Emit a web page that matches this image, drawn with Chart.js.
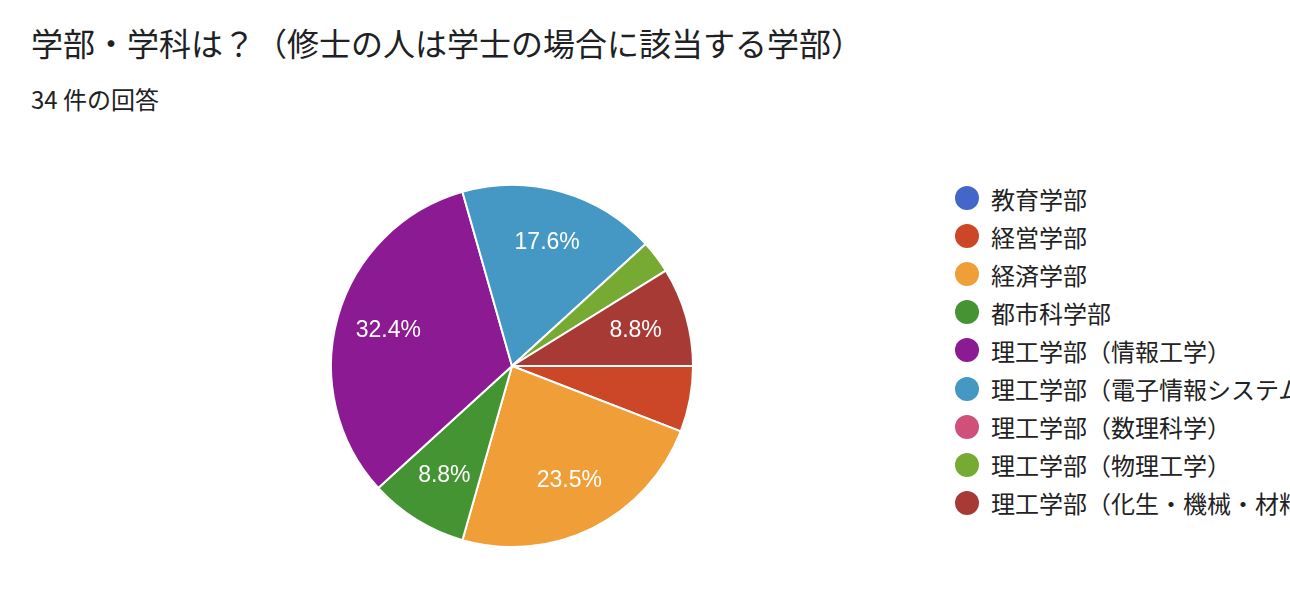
<!DOCTYPE html>
<html lang="ja">
<head>
<meta charset="utf-8">
<script src="https://cdn.jsdelivr.net/npm/chart.js@4.4.1/dist/chart.umd.min.js"></script>
<style>
  html, body { margin:0; padding:0; width:1290px; height:598px; overflow:hidden; background:#fff; }
  body { position:relative; font-family:"Noto Sans CJK JP", "Noto Sans", sans-serif; color:#202124; }
  #title { position:absolute; left:31px; top:20px; font-size:32px; white-space:nowrap; line-height:44px; }
  #sub { position:absolute; left:31px; top:84px; font-size:24px; white-space:nowrap; line-height:30px; }
  #pieBox { position:absolute; left:330px; top:184px; width:364px; height:364px; }
  #legend { position:absolute; left:955px; top:179px; right:0; overflow:hidden; }
  .item { height:38.1px; display:flex; align-items:center; white-space:nowrap; font-size:24px; color:#222; }
  .dot { width:24px; height:24px; border-radius:50%; flex:none; margin-right:12px; }
</style>
</head>
<body>
<div id="title">学部・学科は？（修士の人は学士の場合に該当する学部）</div>
<div id="sub">34 件の回答</div>
<div id="pieBox"><canvas id="pie"></canvas></div>
<div id="legend"></div>
<script>
const labels = ["教育学部", "経営学部", "経済学部", "都市科学部", "理工学部（情報工学）",
  "理工学部（電子情報システム）", "理工学部（数理科学）", "理工学部（物理工学）", "理工学部（化生・機械・材料）"];
const counts = [0, 2, 8, 3, 11, 6, 0, 1, 3];
const colors = ["#4267c9", "#cc4628", "#f09e38", "#459433", "#8c1a93", "#4598c4", "#cf5078", "#77aa33", "#a83a36"];

// legend (clipped at the right edge like the original)
const legendEl = document.getElementById("legend");
labels.forEach((name, i) => {
  const row = document.createElement("div");
  row.className = "item";
  row.innerHTML = `<span class="dot" style="background:${colors[i]}"></span><span>${name}</span>`;
  legendEl.appendChild(row);
});

// percentage labels inside the bigger slices
const sliceText = {
  id: "sliceText",
  afterDatasetsDraw(chart) {
    const ctx = chart.ctx;
    const total = counts.reduce((a, b) => a + b, 0);
    chart.getDatasetMeta(0).data.forEach((arc, i) => {
      const pct = counts[i] / total * 100;
      if (pct < 7) return;
      const mid = (arc.startAngle + arc.endAngle) / 2;
      const r = arc.outerRadius * 0.71;
      ctx.save();
      ctx.fillStyle = "#fff";
      ctx.font = "23px 'Liberation Sans', Arial, sans-serif";
      ctx.textAlign = "center";
      ctx.textBaseline = "middle";
      ctx.fillText(pct.toFixed(1) + "%", arc.x + Math.cos(mid) * r, arc.y + Math.sin(mid) * r);
      ctx.restore();
    });
  }
};

new Chart(document.getElementById("pie"), {
  type: "pie",
  data: {
    labels,
    datasets: [{ data: counts, backgroundColor: colors, borderColor: "#fff", borderWidth: 2 }]
  },
  options: {
    responsive: true,
    maintainAspectRatio: false,
    animation: false,
    rotation: 90,
    layout: { padding: 0 },
    plugins: { legend: { display: false }, tooltip: { enabled: false } }
  },
  plugins: [sliceText]
});
</script>
</body>
</html>
